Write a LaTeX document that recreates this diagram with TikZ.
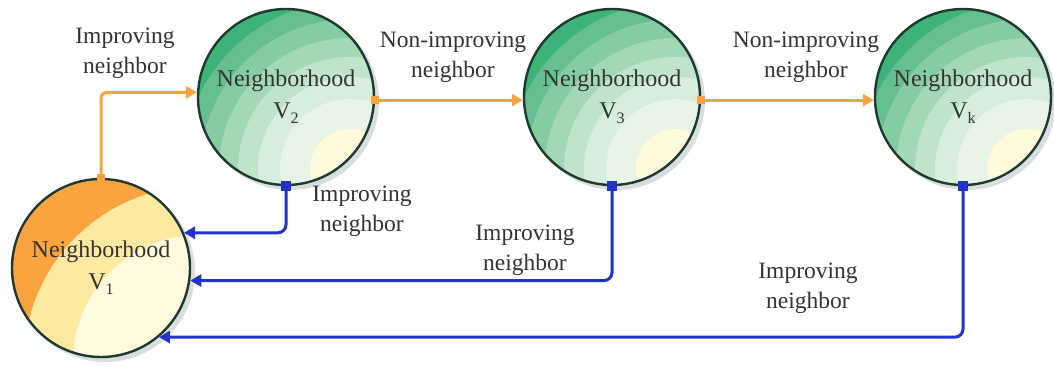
\documentclass[tikz,border=0pt]{standalone}
\usepackage{fontspec}
\setmainfont{Liberation Serif}
\usetikzlibrary{arrows.meta}
\definecolor{g1}{HTML}{14A866}
\definecolor{g2}{HTML}{3DB37A}
\definecolor{g3}{HTML}{66BF8F}
\definecolor{g4}{HTML}{86CCA3}
\definecolor{g5}{HTML}{A3D8B6}
\definecolor{g6}{HTML}{BFE4CA}
\definecolor{g7}{HTML}{D6EEDB}
\definecolor{g8}{HTML}{E8F5E6}
\definecolor{g9}{HTML}{FDFBDC}
\definecolor{o1}{HTML}{F9A43F}
\definecolor{o2}{HTML}{FDE9A0}
\definecolor{o3}{HTML}{FFFBDF}
\definecolor{rim}{HTML}{1E3A30}
\definecolor{shad}{HTML}{D8DEDE}
\definecolor{oline}{HTML}{F7A440}
\definecolor{bline}{HTML}{2233CC}
\definecolor{txt}{HTML}{333333}
\newcommand\nsub[1]{\raisebox{-0.2em}{\fontsize{16}{16}\selectfont #1}}
\newcommand\greenfill[2]{%
  \fill[shad] ({#1+4},{#2+4}) circle (89pt);
  \begin{scope}
    \clip (#1,#2) circle (88pt);
    \foreach \r/\c in {240/g1,188/g2,168/g3,150/g4,131/g5,112/g6,92/g7,70/g8,40/g9}
      \fill[\c] ({#1+64},{#2+72}) circle (\r pt);
  \end{scope}}
\tikzset{
  ball/.style={circle, draw=rim, line width=2.4pt, minimum size=176pt, inner sep=0pt,
    align=center, text=txt, font=\fontsize{24}{32}\selectfont},
  lbl/.style={align=center, text=txt, font=\fontsize{23.5}{30}\selectfont},
  oarr/.style={draw=oline, line width=3pt, rounded corners=6pt,
    -{Triangle[length=11pt,width=12pt]}},
  barr/.style={draw=bline, line width=3pt, rounded corners=8pt,
    -{Triangle[length=11pt,width=12pt]}},
  osq/.style={fill=oline, minimum size=8pt, inner sep=0pt},
  bsq/.style={fill=bline, minimum size=10pt, inner sep=0pt}
}
\begin{document}
\begin{tikzpicture}[x=1pt,y=-1pt]
\useasboundingbox (0,0) rectangle (1054,367);
% V1 fill
\fill[shad] (105,272) circle (90pt);
\begin{scope}
  \clip (101,268) circle (89pt);
  \fill[o1] (101,268) circle (89pt);
  \fill[o2] (200,362) circle (176pt);
  \fill[o3] (200,362) circle (127pt);
\end{scope}
\greenfill{286}{97}
\greenfill{612}{97}
\greenfill{963}{97}
\node[ball, minimum size=178pt] (v1) at (101,268) {Neighborhood\\V\nsub{1}};
\node[ball] (v2) at (286,97) {Neighborhood\\V\nsub{2}};
\node[ball] (v3) at (612,97) {Neighborhood\\V\nsub{3}};
\node[ball] (vk) at (963,97) {Neighborhood\\V\nsub{k}};
% orange connectors
\draw[oarr] (v1.north) |- (v2.177);
\draw[oarr] (v2.-2) -- (v3.182);
\draw[oarr] (v3.-2) -- (vk.182);
\node[osq] (s1) at (v1.north) {};
\node[osq] (s2) at (v2.-2) {};
\node[osq] (s3) at (v3.-2) {};
% blue connectors
\draw[barr] (v2.south) |- (v1.23);
\draw[barr] (v3.south) |- (v1.-8);
\draw[barr] (vk.south) |- (v1.-50);
\node[bsq] (b2) at (v2.south) {};
\node[bsq] (b3) at (v3.south) {};
\node[bsq] (bk) at (vk.south) {};
% labels
\node[lbl] (l1) at (125,53) {Improving\\neighbor};
\node[lbl] (l2) at (453,57) {Non-improving\\neighbor};
\node[lbl] (l3) at (806,57) {Non-improving\\neighbor};
\node[lbl] (l4) at (362,211) {Improving\\neighbor};
\node[lbl] (l5) at (525,250) {Improving\\neighbor};
\node[lbl] (l6) at (808,288) {Improving\\neighbor};
\end{tikzpicture}
\end{document}
